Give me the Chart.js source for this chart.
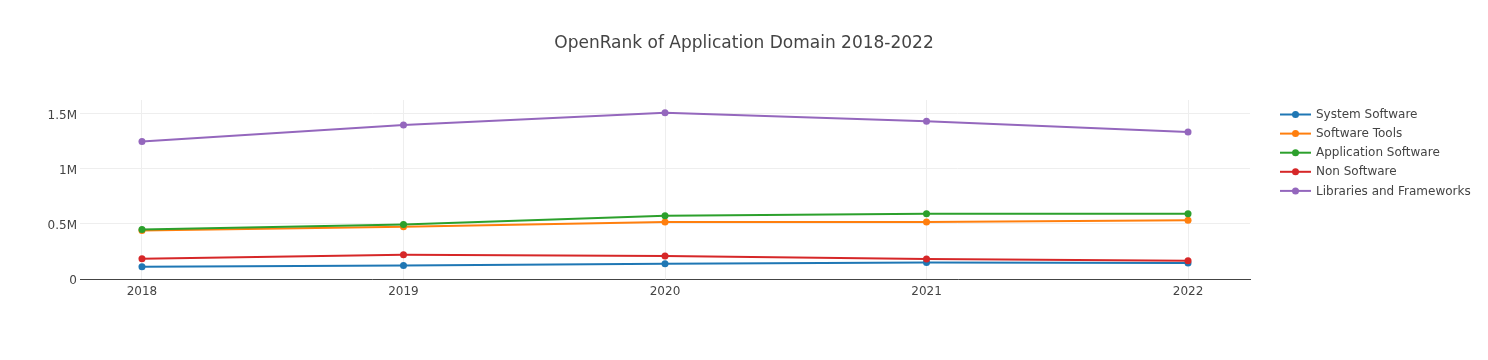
<!DOCTYPE html>
<html>
<head>
<meta charset="utf-8">
<script src="https://cdn.jsdelivr.net/npm/chart.js@4.4.1/dist/chart.umd.min.js"></script>
<style>
  html, body { margin: 0; padding: 0; background: #fff; }
  #wrap { width: 1488px; height: 360px; position: relative; }
</style>
</head>
<body>
<div id="wrap"><canvas id="c" width="1488" height="360"></canvas></div>
<script>
const years = [2018, 2019, 2020, 2021, 2022];
const seriesNames = ["System Software", "Software Tools", "Application Software", "Non Software", "Libraries and Frameworks"];
const systemSoftware = [112000, 123000, 139000, 151000, 145000];
const softwareTools = [441000, 474000, 517000, 517000, 535000];
const applicationSoftware = [450000, 495000, 574000, 592000, 592000];
const nonSoftware = [184000, 220000, 209000, 181000, 166000];
const librariesFrameworks = [1249000, 1400000, 1512000, 1434000, 1337000];
const yTicks = [0, 500000, 1000000, 1500000];
const yTickLabels = ["0", "0.5M", "1M", "1.5M"];
const titleText = 'OpenRank of Application Domain 2018-2022';
const colors = ["#1f77b4", "#ff7f0e", "#2ca02c", "#d62728", "#9467bd"];

const allSeries = [systemSoftware, softwareTools, applicationSoftware, nonSoftware, librariesFrameworks];
const FONT = '"DejaVu Sans", Verdana, sans-serif';

const datasets = allSeries.map((vals, i) => ({
  label: seriesNames[i],
  data: years.map((y, j) => ({ x: y, y: vals[j] })),
  borderColor: colors[i],
  backgroundColor: colors[i],
  borderWidth: 2,
  pointRadius: 3.5,
  pointHoverRadius: 3.5,
  pointBorderWidth: 0,
  tension: 0,
  order: allSeries.length - i
}));

const decorPlugin = {
  id: 'decor',
  afterDraw(chart) {
    const ctx = chart.ctx;
    ctx.save();
    // title centered on the page
    ctx.font = '17px ' + FONT;
    ctx.fillStyle = '#444';
    ctx.textAlign = 'center';
    ctx.textBaseline = 'middle';
    ctx.fillText(titleText, 744, 44);
    // legend
    ctx.font = '12px ' + FONT;
    ctx.textBaseline = 'middle';
    ctx.textAlign = 'left';
    chart.data.datasets.forEach((ds, i) => {
      const y = 114.5 + i * 19.1;
      ctx.strokeStyle = ds.borderColor;
      ctx.lineWidth = 2;
      ctx.beginPath();
      ctx.moveTo(1280, y);
      ctx.lineTo(1311, y);
      ctx.stroke();
      ctx.fillStyle = ds.borderColor;
      ctx.beginPath();
      ctx.arc(1295.5, y, 3.5, 0, Math.PI * 2);
      ctx.fill();
      ctx.fillStyle = '#444';
      ctx.fillText(ds.label, 1316, y + 0.5);
    });
    ctx.restore();
  }
};

new Chart(document.getElementById('c'), {
  type: 'line',
  data: { datasets },
  plugins: [decorPlugin],
  options: {
    responsive: false,
    animation: false,
    layout: { padding: { left: 0, right: 238, top: 100, bottom: 0 } },
    plugins: {
      legend: { display: false },
      tooltip: { enabled: false },
      title: { display: false }
    },
    scales: {
      x: {
        type: 'linear',
        min: 2017.763,
        max: 2022.237,
        afterBuildTicks: (scale) => { scale.ticks = years.map(v => ({ value: v })); },
        afterFit: (scale) => { scale.height = 81; },
        ticks: {
          color: '#444',
          font: { family: FONT, size: 12 },
          padding: 6,
          maxRotation: 0,
          callback: (v) => String(v)
        },
        grid: { color: '#eeeeee', lineWidth: 1, drawTicks: false },
        border: { display: true, color: '#444', width: 1 }
      },
      y: {
        type: 'linear',
        min: 0,
        max: 1627000,
        afterBuildTicks: (scale) => { scale.ticks = yTicks.map(v => ({ value: v })); },
        afterFit: (scale) => { scale.width = 80; },
        ticks: {
          color: '#444',
          font: { family: FONT, size: 12 },
          padding: 3,
          labelOffset: 2,
          callback: (v) => { const k = yTicks.indexOf(v); return k >= 0 ? yTickLabels[k] : ''; }
        },
        grid: { color: '#eeeeee', lineWidth: 1, drawTicks: false },
        border: { display: false }
      }
    }
  }
});
</script>
</body>
</html>
